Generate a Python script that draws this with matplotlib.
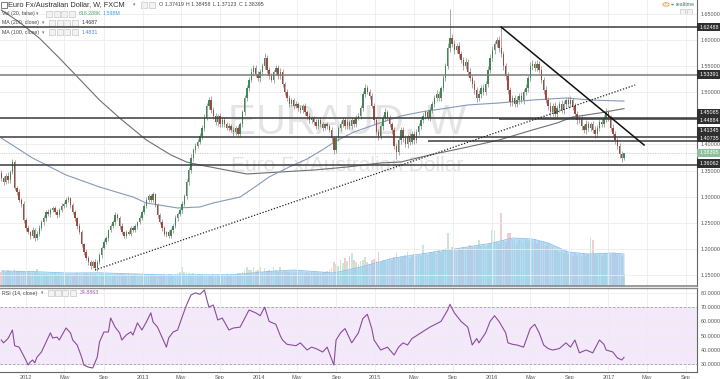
import numpy as np
import pandas as pd
import matplotlib
matplotlib.use("Agg")
import matplotlib.pyplot as plt
import matplotlib.dates as mdates
from matplotlib.patches import Rectangle, Circle
from matplotlib.ticker import FuncFormatter
from matplotlib.transforms import blended_transform_factory as blend

plt.rcParams["font.family"] = ["Liberation Sans", "DejaVu Sans"]

# weekly EUR/AUD candles, first bar = week of 2011-10-16
first_week = "2011-10-16"
first_open = 1.345
closes = [
    1.336, 1.328, 1.340, 1.332, 1.347, 1.367, 1.317, 1.309, 1.294, 1.286,
    1.255, 1.240, 1.232, 1.225, 1.236, 1.221, 1.229, 1.240, 1.251, 1.259,
    1.271, 1.267, 1.275, 1.278, 1.271, 1.265, 1.275, 1.282, 1.286, 1.294,
    1.297, 1.284, 1.271, 1.259, 1.244, 1.232, 1.209, 1.194, 1.182, 1.175,
    1.167, 1.175, 1.163, 1.175, 1.188, 1.202, 1.213, 1.221, 1.236, 1.244,
    1.251, 1.265, 1.259, 1.244, 1.232, 1.225, 1.232, 1.229, 1.240, 1.236,
    1.244, 1.251, 1.259, 1.271, 1.282, 1.294, 1.301, 1.294, 1.305, 1.284,
    1.265, 1.252, 1.240, 1.229, 1.232, 1.225, 1.236, 1.244, 1.259, 1.267,
    1.274, 1.286, 1.301, 1.328, 1.351, 1.374, 1.389, 1.397, 1.405, 1.416,
    1.432, 1.451, 1.474, 1.485, 1.466, 1.455, 1.443, 1.455, 1.439, 1.447,
    1.439, 1.432, 1.435, 1.428, 1.424, 1.432, 1.420, 1.439, 1.462, 1.489,
    1.508, 1.524, 1.539, 1.547, 1.535, 1.527, 1.539, 1.550, 1.566, 1.543,
    1.531, 1.524, 1.539, 1.547, 1.531, 1.539, 1.516, 1.501, 1.489, 1.478,
    1.485, 1.474, 1.478, 1.470, 1.466, 1.474, 1.462, 1.455, 1.447, 1.451,
    1.443, 1.435, 1.447, 1.439, 1.432, 1.439, 1.435, 1.428, 1.412, 1.389,
    1.412, 1.432, 1.439, 1.447, 1.435, 1.443, 1.435, 1.447, 1.439, 1.451,
    1.455, 1.470, 1.497, 1.508, 1.501, 1.493, 1.474, 1.447, 1.424, 1.416,
    1.435, 1.451, 1.462, 1.451, 1.439, 1.428, 1.397, 1.386, 1.408, 1.428,
    1.412, 1.401, 1.416, 1.405, 1.420, 1.408, 1.424, 1.435, 1.447, 1.455,
    1.462, 1.451, 1.466, 1.478, 1.489, 1.497, 1.489, 1.508, 1.527, 1.550,
    1.585, 1.604, 1.593, 1.581, 1.589, 1.573, 1.562, 1.550, 1.558, 1.539,
    1.527, 1.516, 1.504, 1.489, 1.497, 1.508, 1.501, 1.516, 1.543, 1.566,
    1.581, 1.593, 1.600, 1.585, 1.573, 1.550, 1.531, 1.504, 1.481, 1.489,
    1.478, 1.485, 1.493, 1.485, 1.501, 1.508, 1.527, 1.550, 1.554, 1.547,
    1.554, 1.543, 1.524, 1.504, 1.485, 1.474, 1.462, 1.474, 1.458, 1.470,
    1.478, 1.466, 1.478, 1.485, 1.478, 1.485, 1.474, 1.458, 1.447, 1.451,
    1.435, 1.428, 1.439, 1.432, 1.439, 1.428, 1.420, 1.432, 1.443, 1.439,
    1.451, 1.462, 1.451, 1.432, 1.420, 1.408, 1.397, 1.382, 1.37419, 1.38395,
]
# upper / lower wick beyond the body, in thousandths
wick_up = [
    6, 4, 5, 7, 5, 6, 4, 3, 5, 4,  5, 4, 6, 3, 5, 4, 6, 5, 4, 5,
    4, 6, 3, 5, 4, 5, 3, 6, 4, 5,  5, 3, 4, 4, 3, 5, 4, 3, 5, 4,
    3, 4, 5, 3, 4, 3, 5, 4, 3, 4,  4, 5, 3, 4, 5, 3, 4, 5, 4, 3,
    4, 3, 5, 4, 5, 6, 4, 5, 4, 3,  4, 3, 5, 4, 3, 5, 4, 3, 5, 4,
    4, 5, 4, 6, 5, 7, 5, 6, 5, 6,  6, 7, 5, 6, 7, 5, 6, 4, 6, 5,
    5, 4, 6, 4, 5, 4, 6, 5, 4, 6,  6, 5, 7, 6, 5, 6, 5, 7, 9, 6,
    5, 6, 4, 6, 5, 7, 5, 4, 6, 5,  5, 4, 6, 4, 5, 4, 5, 4, 5, 4,
    4, 5, 4, 5, 4, 3, 5, 4, 5, 4,  5, 4, 6, 5, 4, 5, 4, 5, 4, 5,
    5, 6, 5, 7, 6, 5, 6, 5, 6, 5,  6, 5, 7, 5, 6, 5, 6, 5, 7, 6,
    5, 6, 5, 6, 5, 6, 5, 6, 5, 6,  5, 6, 5, 6, 5, 7, 6, 5, 6, 7,
    9, 55, 8, 7, 6, 8, 7, 6, 7, 6,  7, 6, 8, 6, 7, 6, 7, 6, 8, 7,
    7, 5, 6, 8, 40, 7, 6, 8, 7, 6,  6, 7, 6, 7, 6, 7, 6, 8, 7, 6,
    7, 6, 7, 6, 8, 6, 7, 6, 7, 6,  6, 7, 6, 5, 6, 7, 5, 6, 7, 6,
    6, 5, 7, 6, 5, 6, 7, 6, 5, 6,  6, 7, 5, 6, 7, 5, 6, 5, 6, 0.6,
]
wick_dn = [
    5, 6, 4, 5, 6, 4, 5, 6, 4, 5,  6, 5, 4, 6, 5, 6, 4, 5, 4, 6,
    5, 4, 6, 4, 5, 6, 4, 5, 4, 5,  4, 5, 4, 6, 5, 4, 6, 5, 4, 5,
    5, 4, 4, 5, 4, 5, 3, 4, 5, 4,  4, 5, 4, 6, 4, 5, 4, 3, 5, 4,
    4, 5, 3, 4, 5, 4, 5, 4, 5, 4,  5, 4, 5, 4, 6, 5, 4, 5, 4, 5,
    4, 5, 4, 5, 6, 5, 6, 5, 4, 5,  5, 6, 5, 6, 5, 6, 5, 7, 5, 6,
    6, 5, 6, 5, 7, 5, 6, 5, 6, 5,  5, 6, 5, 7, 6, 5, 7, 6, 5, 7,
    6, 5, 7, 6, 5, 6, 5, 6, 5, 7,  5, 6, 5, 6, 5, 6, 5, 6, 5, 6,
    6, 5, 6, 5, 6, 5, 6, 5, 7, 7,  6, 5, 6, 5, 6, 5, 6, 5, 6, 5,
    5, 6, 5, 6, 5, 6, 5, 7, 6, 7,  6, 7, 6, 5, 6, 7, 6, 13, 6, 7,
    7, 6, 7, 6, 5, 7, 6, 5, 6, 5,  6, 5, 6, 5, 6, 5, 6, 5, 6, 5,
    6, 7, 6, 7, 6, 7, 6, 7, 6, 7,  6, 7, 8, 7, 6, 7, 6, 7, 6, 7,
    6, 7, 6, 7, 6, 7, 8, 7, 8, 7,  7, 6, 7, 6, 7, 6, 7, 6, 7, 6,
    6, 7, 6, 7, 6, 7, 8, 7, 6, 7,  7, 6, 7, 6, 7, 6, 7, 6, 7, 6,
    7, 6, 7, 6, 7, 6, 7, 6, 7, 6,  6, 7, 6, 7, 6, 7, 6, 7, 8, 3,
]
volume_k = [
    720, 780, 690, 810, 760, 700, 840, 770, 730, 680,
    740, 700, 760, 650, 720, 690, 860, 640, 610, 590,
    620, 560, 600, 580, 640, 570, 590, 620, 550, 600,
    580, 610, 560, 590, 630, 600, 570, 620, 650, 600,
    640, 590, 610, 570, 560, 600, 540, 580, 550, 600,
    570, 540, 590, 560, 600, 550, 570, 590, 540, 560,
    580, 600, 550, 570, 620, 590, 560, 610, 580, 550,
    570, 600, 560, 590, 550, 580, 610, 570, 600, 640,
    700, 950, 680, 720, 650, 600, 640, 590, 620, 580,
    610, 560, 600, 570, 540, 590, 560, 580, 550, 600,
    570, 600, 560, 610, 580, 620, 660, 640, 700, 740,
    950, 780, 820, 940, 760, 800, 950, 720, 880, 760,
    800, 740, 930, 780, 720, 950, 700, 760, 680, 720,
    700, 660, 720, 680, 650, 700, 640, 690, 660, 700,
    680, 650, 700, 640, 690, 720, 760, 800, 900, 1200,
    1100, 1000, 1300, 1150, 1400, 1250, 1500, 1650, 1300, 1200,
    1100, 1250, 1300, 1450, 1200, 1100, 1300, 1350, 1250, 1700,
    1200, 1300, 1250, 1350, 1400, 1300, 1450, 1650, 1400, 1500,
    1450, 1550, 1700, 1400, 1500, 1600, 1450, 1550, 1500, 2050,
    1600, 1550, 1700, 1650, 1750, 1600, 1800, 1700, 1850, 1900,
    2650, 1800, 1950, 1850, 1700, 1900, 1800, 1950, 1850, 1900,
    2050, 1900, 2000, 1950, 2300, 2000, 2100, 1950, 2050, 2150,
    2800, 2750, 2200, 2100, 3650, 2300, 2200, 2650, 2650, 2300,
    2200, 2100, 2300, 2250, 2150, 2350, 2250, 2300, 2200, 2350,
    2100, 2250, 2150, 2200, 2000, 2100, 1900, 1950, 1800, 1850,
    1700, 1800, 1650, 1750, 1600, 1550, 1500, 1650, 1550, 1600,
    1500, 1650, 1550, 1600, 2400, 2300, 1600, 1550, 1650, 1500,
    1600, 1650, 1950, 1550, 1600, 1650, 1550, 1600, 1500, 616,
]
# (bar index, value)
vol_ma_pts = [(0, 750), (14, 720), (30, 650), (44, 660), (74, 550), (104, 560),
              (119, 720), (131, 800), (149, 650), (161, 950), (176, 1400),
              (191, 1650), (206, 1900), (220, 2150), (229, 2400), (238, 2350),
              (245, 2150), (254, 1700), (263, 1600), (274, 1650), (279, 1598)]
ma100_pts = [(0, 1.4124), (14, 1.3741), (29, 1.3416), (44, 1.3186), (59, 1.2994),
             (65, 1.2879), (79, 1.2784), (89, 1.2803), (95, 1.2880), (107, 1.2994),
             (113, 1.3168), (120, 1.3378), (129, 1.3569), (137, 1.3722),
             (143, 1.3875), (150, 1.4067), (158, 1.4239), (167, 1.4374),
             (179, 1.4546), (188, 1.4622), (197, 1.4680), (209, 1.4757),
             (223, 1.4795), (238, 1.4852), (253, 1.4891), (264, 1.4852), (279, 1.4831)]
ma200_pts = [(0, 1.6577), (8, 1.6347), (17, 1.6040), (26, 1.5657), (35, 1.5255),
             (44, 1.4852), (53, 1.4508), (65, 1.4086), (76, 1.3799), (83, 1.3665),
             (89, 1.3607), (110, 1.3435), (125, 1.3473), (140, 1.3511),
             (155, 1.3569), (170, 1.3646), (179, 1.3665), (192, 1.3799),
             (209, 1.3952), (223, 1.4086), (238, 1.4278), (249, 1.4412),
             (256, 1.4527), (268, 1.4603), (279, 1.4687)]
rsi_pts = [(0, 47), (1, 45), (3, 48), (5, 54), (6, 43), (8, 42), (10, 36), (11, 33),
           (12, 29.5), (13, 31.6), (14, 33), (15, 31), (16, 35), (18, 38.6), (19, 42),
           (22, 52), (23, 48.4), (25, 49), (26, 47), (28, 52.6), (29, 55.4), (31, 52),
           (32, 47), (34, 43.5), (36, 35), (37, 29.5), (39, 28), (41, 27.4), (43, 35),
           (44, 45.6), (46, 52.6), (48, 52.6), (49, 62.4), (51, 56), (53, 52), (54, 47),
           (56, 50.5), (58, 52.6), (59, 50.5), (61, 59), (63, 54), (65, 59.6), (67, 66),
           (68, 59.6), (70, 56), (72, 49), (74, 42), (75, 48.4), (77, 52.6), (79, 54),
           (81, 63), (83, 71.5), (85, 78.5), (87, 80), (89, 79), (91, 82), (93, 70),
           (95, 71.5), (97, 61), (99, 62.4), (102, 54), (104, 55.4), (107, 56),
           (109, 62), (111, 68), (114, 66), (116, 64), (118, 70), (120, 60), (123, 58),
           (125, 50), (126, 47), (128, 44), (132, 43), (134, 45), (137, 40), (139, 42),
           (141, 41), (144, 38.6), (146, 42), (149, 29.5), (150, 47), (152, 52),
           (154, 55), (157, 45), (160, 52), (162, 62), (164, 65), (166, 55), (167, 47),
           (170, 40), (173, 42), (176, 36.5), (178, 42), (180, 45), (182, 43.5),
           (184, 48), (188, 52), (192, 56), (197, 60), (200, 68), (201, 72), (203, 66),
           (206, 60), (209, 56), (211, 43.5), (213, 48), (214, 45), (217, 52),
           (219, 60), (221, 64), (223, 60), (226, 52), (227, 45), (229, 44),
           (231, 43.5), (234, 42), (237, 55), (239, 58), (241, 52), (243, 43.5),
           (245, 41), (247, 40), (250, 41), (253, 45), (255, 42), (257, 47), (259, 38),
           (262, 40), (265, 38), (268, 47), (270, 44), (271, 40), (274, 38.6),
           (276, 34.5), (278, 33), (279, 34.8863)]

levels = [1.62488, 1.53391, 1.45085, 1.44884, 1.41345, 1.40735, 1.36062]
level_start_bar = [None, None, None, 223, None, 191, None]
support_line = [(42, 1.1596), (284, 1.5140)]
resistance_line = [(224, 1.6249), (288, 1.3990)]
price_ticks = [1.15, 1.20, 1.25, 1.30, 1.35, 1.40, 1.45, 1.50, 1.55, 1.60, 1.65]
rsi_ticks = [30, 40, 50, 60, 70, 80]

# ---------------------------------------------------------------------------
W, H = 720, 379
fig = plt.figure(figsize=(W / 100, H / 100), dpi=100)
fig.patch.set_facecolor("white")


def fx(x):
    return x / W


def fy(y):
    return 1 - y / H


ax = fig.add_axes([0, fy(286), fx(697), 286 / H])
ax2 = fig.add_axes([0, fy(372), fx(697), 84 / H], sharex=ax)
axv = ax.twinx()

t0 = mdates.date2num(pd.Timestamp(first_week))


def bar_t(b):
    return t0 + 7 * np.asarray(b, dtype=float)


c = np.array(closes)
o = np.r_[first_open, c[:-1]]
hi = np.maximum(o, c) + np.array(wick_up) / 1000
lo = np.minimum(o, c) - np.array(wick_dn) / 1000
t = bar_t(np.arange(len(c)))
up = c >= o

# volume + its MA area
axv.bar(t, volume_k, width=5.2, color=np.where(up, "#cbe6d2", "#efcfcc"), lw=0, zorder=1)
vb, vv = zip(*vol_ma_pts)
axv.fill_between(bar_t(vb), vv, color="#9bcdf0", alpha=0.72, lw=0, zorder=2)
axv.plot(bar_t(vb), vv, color="#86c1ea", lw=0.6, zorder=3)
axv.set_ylim(0, 286 * 50)
axv.set_axis_off()
ax.set_zorder(axv.get_zorder() + 1)
ax.patch.set_visible(False)

# watermark
ax.text(0.498, 0.570, "EURAUD, W", transform=ax.transAxes, fontsize=30,
        color="#e4e4e4", ha="center", va="center", zorder=0.5)
ax.text(0.498, 0.423, "Euro Fx/Australian Dollar", transform=ax.transAxes,
        fontsize=15, color="#e4e4e4", ha="center", va="center", zorder=0.5)

# moving averages
for pts, col in [(ma200_pts, "#6f6f74"), (ma100_pts, "#8799ba")]:
    b, v = zip(*pts)
    ax.plot(bar_t(b), v, color=col, lw=0.8, zorder=2.5)

# candles
ax.vlines(t, lo, hi, color="#858585", lw=0.5, zorder=3)
ax.bar(t, np.maximum(np.abs(c - o), 0.0009), bottom=np.minimum(o, c), width=4.4,
       color=np.where(up, "#3f8859", "#a0493e"), lw=0, zorder=4)

xmin, xmax = t0 - 4, t0 + 7 * 311.7
ax.set_xlim(xmin, xmax)
ax.set_ylim(1.1289, 1.6768)

# horizontal levels and trend lines
for lev, sb in zip(levels, level_start_bar):
    x_from = xmin if sb is None else bar_t(sb)
    col = "#7a7a7a" if lev == 1.53391 else "#3c3c3c"
    ax.hlines(lev, x_from, xmax, color=col, lw=1.1, zorder=5)
ax.axhline(closes[-1], color="#a8a8a8", lw=0.5, ls=(0, (1, 1.5)), zorder=5)

b, v = zip(*support_line)
ax.plot(bar_t(b), v, color="#222222", lw=0.9, ls=(0, (1, 1.4)), zorder=6)
b, v = zip(*resistance_line)
ax.plot(bar_t(b), v, color="#111111", lw=1.1, zorder=6)

# axes styling
month_loc = mdates.MonthLocator(bymonth=[1, 5, 9])


def date_label(x, pos):
    d = mdates.num2date(x)
    return str(d.year) if d.month == 1 else d.strftime("%b")


for a in (ax, ax2):
    a.xaxis.set_major_locator(month_loc)
    a.xaxis.set_major_formatter(FuncFormatter(date_label))
    a.yaxis.tick_right()
    a.grid(True, color="#ececec", lw=0.6, zorder=0)
    a.set_axisbelow(True)
    a.spines["left"].set_visible(False)
    a.spines["right"].set_color("#666666")
    a.spines["right"].set_linewidth(0.8)
    a.tick_params(axis="y", length=0, pad=2.5, labelsize=3.9, labelcolor="#555555")
    a.tick_params(axis="x", length=0, pad=2.2, labelsize=4.0, labelcolor="#555555")

ax.spines["top"].set_visible(False)
ax.spines["bottom"].set_color("#8a8a8a")
ax.spines["bottom"].set_linewidth(1.2)
ax.tick_params(axis="x", labelbottom=False)
ax.set_yticks(price_ticks)
ax.set_yticklabels(["" if p == 1.45 else f"{p:.5f}" for p in price_ticks])

ax2.spines["top"].set_color("#8a8a8a")
ax2.spines["top"].set_linewidth(1.0)
ax2.spines["bottom"].set_color("#666666")
ax2.spines["bottom"].set_linewidth(0.8)

# price labels on the scale
lab = blend(ax.transAxes, ax.transData)
label_nudge = {1.45085: 0.0095, 1.44884: -0.002, 1.41345: 0.0125, 1.40735: 0.005,
               1.36062: 0.003}
for lev in levels:
    ax.text(1.003, lev + label_nudge.get(lev, 0), f"{lev:.5f}", transform=lab,
            fontsize=3.9, color="white", ha="left", va="center", clip_on=False,
            bbox=dict(boxstyle="square,pad=0.3", fc="#2f2f2f", ec="none"), zorder=10)
ax.text(1.003, closes[-1], f"{closes[-1]:.5f}", transform=lab, fontsize=3.9,
        color="white", ha="left", va="center", clip_on=False,
        bbox=dict(boxstyle="square,pad=0.3", fc="#8fbf9c", ec="none"), zorder=10)

# RSI pane
ax2.set_ylim(24.6, 83.4)
ax2.axhspan(30, 70, color="#f4e8fb", lw=0, zorder=0.2)
for lv in (30, 70):
    ax2.axhline(lv, color="#aa99b3", lw=0.6, ls=(0, (3, 2)), zorder=1)
rb, rv = zip(*rsi_pts)
ax2.plot(bar_t(rb), rv, color="#8a4c9c", lw=0.8, zorder=3)
ax2.set_yticks(rsi_ticks)
ax2.set_yticklabels([f"{v:.4f}" for v in rsi_ticks])
ax2.set_xlim(xmin, xmax)

# header / legend texts


def icon(x, y, w=6, h=6):
    fig.add_artist(Rectangle((fx(x), fy(y + h)), w / W, h / H, transform=fig.transFigure,
                             fc="#f3f3f3", ec="#c6c6c6", lw=0.5))


def put(x, y, s, size=3.8, color="#444444", **kw):
    fig.text(fx(x), fy(y), s, fontsize=size, color=color, va="center", ha="left", **kw)


fig.add_artist(Rectangle((fx(1), fy(8)), 6 / W, 6 / H, transform=fig.transFigure,
                         fc="white", ec="#666666", lw=0.6))
put(8, 4.6, "Euro Fx/Australian Dollar, W, FXCM", size=5.3, color="#333333")
put(133, 4.6, "\u25BE", size=3.5, color="#777777", family=["DejaVu Sans"])
icon(141, 1.5)
icon(149, 1.5)
put(159, 4.6, "O 1.37419")
put(186, 4.6, "H 1.38458")
put(213, 4.6, "L 1.37123")
put(239, 4.6, "C 1.38395")

rows = [(13.8, "Vol (20, false)", 36, 46), (22.5, "MA (200, close)", 42, 49),
        (32.3, "MA (100, close)", 42, 49)]
for y, name, xa, xi in rows:
    put(2, y, name)
    put(xa, y, "\u25BE", size=3.5, color="#777777", family=["DejaVu Sans"])
    for k in range(4):
        icon(xi + 7.5 * k, y - 3)
put(79, 13.8, "616.288K", color="#4ea866")
put(103, 13.8, "1.598M", color="#3f9ddf")
put(82, 22.5, "1.4687", color="#333333")
put(82, 32.3, "1.4831", color="#4b86cf")

put(2, 293, "RSI (14, close)")
put(41, 293, "\u25BE", size=3.5, color="#777777", family=["DejaVu Sans"])
for k in range(4):
    icon(48 + 7.2 * k, 290)
put(80, 293, "34.8863", color="#a05ab6")

# realtime badge
fig.add_artist(Circle((fx(666), fy(4.5)), 3.2 / W, transform=fig.transFigure,
                      fc="white", ec="#f0a04b", lw=0.7))
put(664.9, 4.6, "!", size=4, color="#f0a04b")
fig.add_artist(Circle((fx(672.5), fy(4.5)), 1.5 / W, transform=fig.transFigure,
                      fc="#4caf6a", ec="none"))
put(676, 4.6, "realtime", color="#3f7f5a")
icon(680, 9, 5, 5)
icon(687, 9, 5, 5)

fig.savefig("out.png", dpi=100, facecolor="white")
